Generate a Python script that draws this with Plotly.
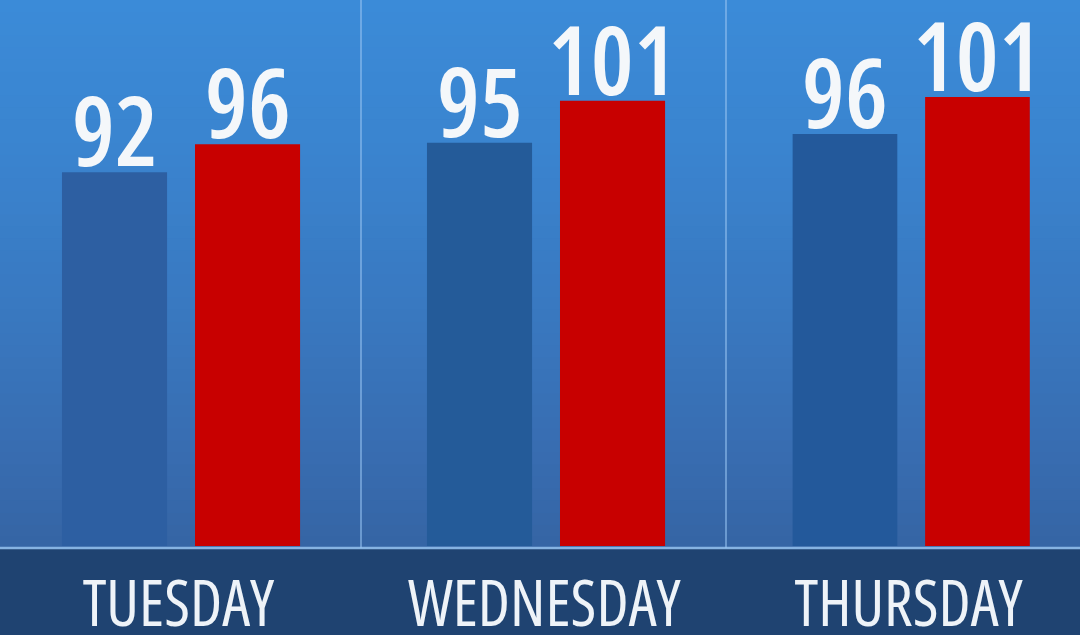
import plotly.graph_objects as go

# ---- data ----
days = ["TUESDAY", "WEDNESDAY", "THURSDAY"]
blue_values = [92, 95, 96]
red_values = [96, 101, 101]
bar_keys = ["blue", "red"]

# ---- layout constants ----
W, H = 1080, 635
panel_edges = [0, 361, 726, 1080]          # px
plot_bottom = 546                            # px (bar baseline)
y_ranges = [[38.6, 116.6], [37.4, 115.4], [40.3, 114.1]]
x_ranges = [[-0.861, 1.853], [-0.891, 1.853], [-0.898, 1.774]]
BLUES = ["#2d5fa2", "#245b99", "#23599b"]
RED = "#c80000"
TXT = "Open Sans"

fig = go.Figure()

# background gradient stripes
stops = [(0, (59, 139, 216)), (150, (58, 132, 207)), (300, (57, 121, 193)),
         (450, (56, 109, 177)), (548, (53, 100, 164))]

def col_at(py):
    for (a, ca), (b, cb) in zip(stops[:-1], stops[1:]):
        if a <= py <= b:
            t = (py - a) / (b - a)
            return "rgb(%d,%d,%d)" % tuple(round(ca[i] + (cb[i] - ca[i]) * t) for i in range(3))
    return "rgb(%d,%d,%d)" % stops[-1][1]

shapes = []
n = 46
step = 548 / n
for i in range(n):
    y0 = i * step
    y1 = (i + 1) * step + 0.6
    shapes.append(dict(type="rect", xref="paper", yref="paper", x0=0, x1=1,
                       y0=1 - y1 / H, y1=1 - y0 / H, fillcolor=col_at(y0 + step / 2),
                       line=dict(width=0), layer="below"))
# bottom band
shapes.append(dict(type="rect", xref="paper", yref="paper", x0=0, x1=1, y0=0, y1=1 - 549 / H,
                   fillcolor="#1f4371", line=dict(width=0), layer="below"))
# separator line
shapes.append(dict(type="line", xref="paper", yref="paper", x0=0, x1=1,
                   y0=1 - 548 / H, y1=1 - 548 / H, line=dict(color="#86b3e2", width=2.5),
                   layer="below"))
# panel dividers
for px in panel_edges[1:-1]:
    shapes.append(dict(type="line", xref="paper", yref="paper", x0=px / W, x1=px / W,
                       y0=1 - 548 / H, y1=1, line=dict(color="rgba(150,195,240,0.75)", width=1.5),
                       layer="below"))

annotations = []
for i, day in enumerate(days):
    ax = "" if i == 0 else str(i + 1)
    xa, ya = "x" + ax, "y" + ax
    vals = [blue_values[i], red_values[i]]
    fig.add_trace(go.Bar(x=bar_keys, y=vals, width=0.79,
                         marker=dict(color=[BLUES[i], RED], line=dict(width=0)),
                         xaxis=xa, yaxis=ya, showlegend=False, hoverinfo="skip"))
    dom = [panel_edges[i] / W, panel_edges[i + 1] / W]
    fig.layout["xaxis" + ax] = dict(domain=dom, range=x_ranges[i], type="category",
                                    showticklabels=False, showgrid=False, zeroline=False,
                                    showline=False, anchor=ya, fixedrange=True)
    fig.layout["yaxis" + ax] = dict(domain=[1 - plot_bottom / H, 1], range=y_ranges[i],
                                    showticklabels=False, showgrid=False, zeroline=False,
                                    showline=False, anchor=xa, fixedrange=True)
    for k, v in zip(bar_keys, vals):
        annotations.append(dict(x=k, y=v, xref=xa, yref=ya, text=str(v), showarrow=False,
                                yanchor="bottom", xanchor="center", yshift=-24,
                                font=dict(family=TXT, size=96, color="#f4f7fa", weight=600)))
    # day label centred between the two bars of the panel
    annotations.append(dict(x=0.5, y=1 - 601 / H, xref=xa, yref="paper", text=day,
                            showarrow=False, xanchor="center", yanchor="middle", xshift=-2,
                            font=dict(family=TXT, size=63, color="#eef3f8", weight=400)))

fig.update_layout(width=W, height=H, margin=dict(l=0, r=0, t=0, b=0),
                  paper_bgcolor="#3a7cc6", plot_bgcolor="rgba(0,0,0,0)",
                  shapes=shapes, annotations=annotations, barmode="group")

fig.write_html("out.html", config={"displayModeBar": False}, post_script="""
document.body.style.margin='0';
var t=document.querySelectorAll('.annotation-text');
for(var i=0;i<t.length;i++){ t[i].style.fontStretch='condensed'; }
""")
